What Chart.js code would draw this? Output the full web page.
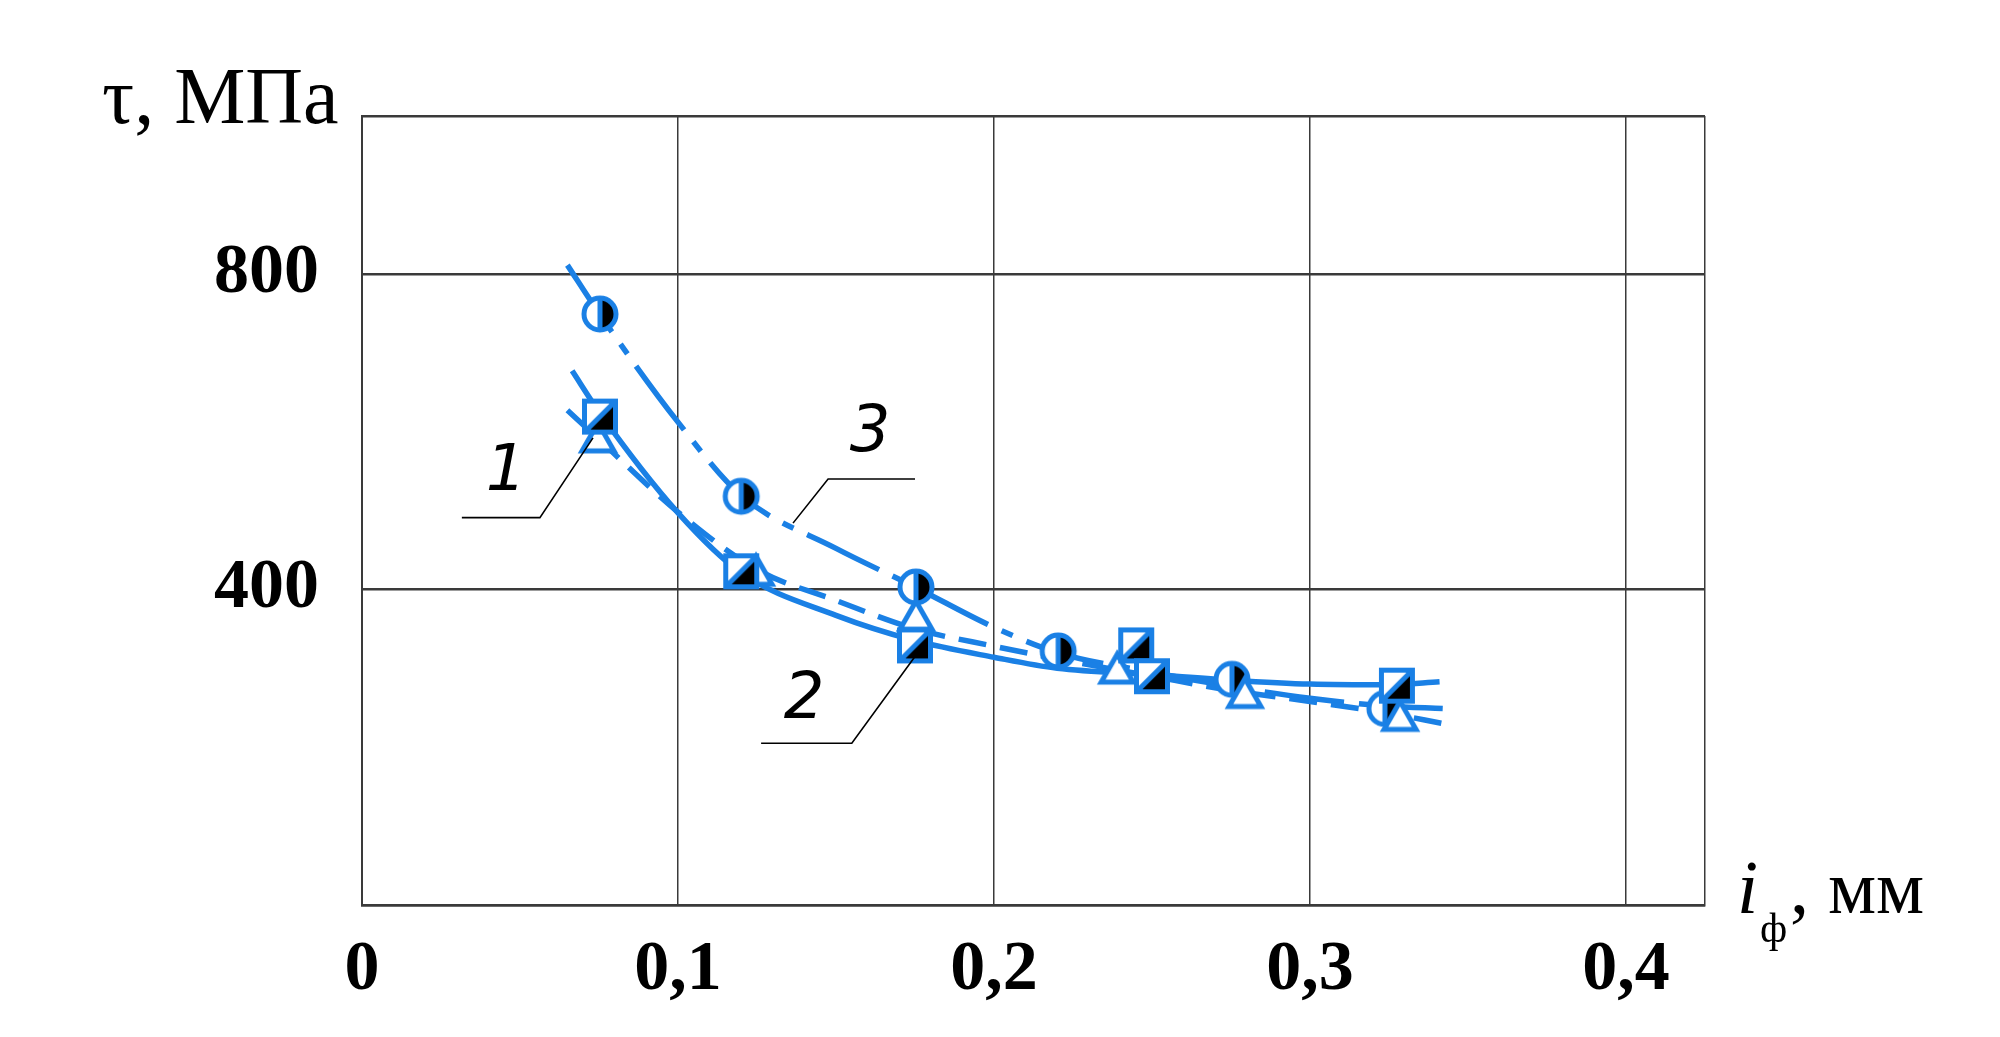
<!DOCTYPE html>
<html>
<head>
<meta charset="utf-8">
<script src="https://cdn.jsdelivr.net/npm/chart.js@4.4.1/dist/chart.umd.min.js"></script>
<style>
  html, body { margin: 0; padding: 0; background: #fff; }
  canvas { display: block; }
</style>
</head>
<body>
<canvas id="shearChart" width="2000" height="1037"></canvas>
<script>
// axis ticks
const xTicks = [0, 0.1, 0.2, 0.3, 0.4, 0.425];
const xTickLabels = ['0', '0,1', '0,2', '0,3', '0,4', ''];
const yTicks = [0, 400, 800, 1000];
const yTickLabels = ['', '400', '800', ''];

// measured points
const circleX = [0.0753, 0.120, 0.1753, 0.2203, 0.2753, 0.3237];
const circleY = [749, 518, 403, 322, 286, 249];
const squareX = [0.0753, 0.120, 0.175, 0.245, 0.250, 0.3275];
const squareY = [619, 423, 329, 329, 290, 278];
const triX = [0.0747, 0.1247, 0.1753, 0.239, 0.2794, 0.3285];
const triY = [592, 423, 366, 299, 268, 239];

// fitted curves
const curve1X = [0.065, 0.075, 0.1, 0.125, 0.15, 0.175, 0.2, 0.22, 0.25, 0.275, 0.3, 0.325, 0.342];
const curve1Y = [627, 590, 498, 425, 386, 350, 328, 312, 290, 272, 258, 243, 230];
const curve2X = [0.0665, 0.075, 0.1, 0.12, 0.15, 0.175, 0.2, 0.22, 0.25, 0.275, 0.3, 0.325, 0.341];
const curve2Y = [677, 625, 497, 421, 367, 335, 314, 300, 292, 285, 280, 279, 283];
const curve3X = [0.065, 0.075, 0.1, 0.12, 0.15, 0.175, 0.2, 0.22, 0.25, 0.275, 0.3, 0.325, 0.342];
const curve3Y = [811, 750, 612, 519, 452, 403, 352, 320, 295, 277, 262, 252, 249];

const blue = '#1a80e5';

function pts(xs, ys) {
  return xs.map((x, i) => ({ x: x, y: ys[i] }));
}

// marker pictures
function circleMark() {
  const c = document.createElement('canvas');
  c.width = c.height = 46;
  const g = c.getContext('2d');
  const r = 16;
  g.fillStyle = '#fff';
  g.beginPath(); g.arc(23, 23, r, 0, Math.PI * 2); g.fill();
  g.fillStyle = '#000';
  g.beginPath(); g.moveTo(23, 23 - r); g.arc(23, 23, r, -Math.PI / 2, Math.PI / 2); g.closePath(); g.fill();
  g.strokeStyle = blue; g.lineWidth = 5;
  g.beginPath(); g.arc(23, 23, r, 0, Math.PI * 2); g.stroke();
  g.beginPath(); g.moveTo(23, 23 - r); g.lineTo(23, 23 + r); g.stroke();
  return c;
}

function squareMark() {
  const c = document.createElement('canvas');
  c.width = c.height = 46;
  const g = c.getContext('2d');
  const h = 15.5;
  g.fillStyle = '#fff';
  g.fillRect(23 - h, 23 - h, 2 * h, 2 * h);
  g.fillStyle = '#000';
  g.beginPath(); g.moveTo(23 - h, 23 + h); g.lineTo(23 + h, 23 - h); g.lineTo(23 + h, 23 + h); g.closePath(); g.fill();
  g.strokeStyle = blue; g.lineWidth = 5; g.lineJoin = 'miter';
  g.strokeRect(23 - h, 23 - h, 2 * h, 2 * h);
  g.beginPath(); g.moveTo(23 - h, 23 + h); g.lineTo(23 + h, 23 - h); g.stroke();
  return c;
}

function triMark() {
  const c = document.createElement('canvas');
  c.width = c.height = 46;
  const g = c.getContext('2d');
  g.beginPath();
  g.moveTo(23, 8); g.lineTo(39, 36); g.lineTo(7, 36); g.closePath();
  g.fillStyle = '#fff'; g.fill();
  g.strokeStyle = blue; g.lineWidth = 5; g.lineJoin = 'miter';
  g.stroke();
  return c;
}

const curveLine = (data, dash) => ({
  data: data,
  borderColor: blue,
  borderWidth: 5.5,
  borderDash: dash,
  pointRadius: 0,
  cubicInterpolationMode: 'monotone',
  fill: false,
  order: 3
});

const markers = (data, img, order) => ({
  data: data,
  showLine: false,
  pointStyle: img,
  pointRadius: 18,
  order: order
});

// text, curve numbers and leader lines
const notes = {
  id: 'notes',
  afterDraw(chart) {
    const ctx = chart.ctx;
    const xs = chart.scales.x, ys = chart.scales.y;
    const px = (v) => xs.getPixelForValue(v);
    const py = (v) => ys.getPixelForValue(v);
    ctx.save();
    ctx.fillStyle = '#000';
    ctx.textAlign = 'left';
    ctx.textBaseline = 'alphabetic';
    ctx.font = '80px "Liberation Serif"';
    ctx.fillText('τ, МПа', 102, 123);
    ctx.font = 'italic 76px "Liberation Serif"';
    ctx.fillText('i', 1737, 913);
    ctx.font = '42px "Liberation Serif"';
    ctx.fillText('ф', 1760, 942);
    ctx.font = '76px "Liberation Serif"';
    ctx.fillText(', мм', 1790, 913);

    ctx.strokeStyle = '#000';
    ctx.lineWidth = 1.6;
    const leaders = [
      [[0.0316, 491], [0.0563, 491], [0.0731, 592]],
      [[0.1263, 205], [0.155, 205], [0.175, 315]],
      [[0.175, 540], [0.1475, 540], [0.1364, 484]]
    ];
    leaders.forEach(l => {
      ctx.beginPath();
      ctx.moveTo(px(l[0][0]), py(l[0][1]));
      ctx.lineTo(px(l[1][0]), py(l[1][1]));
      ctx.lineTo(px(l[2][0]), py(l[2][1]));
      ctx.stroke();
    });
    ctx.font = 'italic 64px "DejaVu Sans"';
    ctx.textAlign = 'center';
    ctx.textBaseline = 'middle';
    ctx.fillText('1', px(0.0456), py(547));
    ctx.fillText('2', px(0.1399), py(258));
    ctx.fillText('3', px(0.1608), py(597));
    ctx.restore();
  }
};

const ctx = document.getElementById('shearChart').getContext('2d');
new Chart(ctx, {
  type: 'line',
  data: {
    datasets: [
      curveLine(pts(curve1X, curve1Y), [28, 14]),
      curveLine(pts(curve2X, curve2Y), []),
      curveLine(pts(curve3X, curve3Y), [80, 15, 12, 15]),
      markers(pts(circleX, circleY), circleMark(), 2),
      markers(pts(triX, triY), triMark(), 1),
      markers(pts(squareX, squareY), squareMark(), 0)
    ]
  },
  options: {
    responsive: false,
    devicePixelRatio: 1,
    animation: false,
    layout: { padding: { left: 0, top: 116, right: 295, bottom: 0 } },
    plugins: {
      legend: { display: false },
      tooltip: { enabled: false }
    },
    scales: {
      x: {
        type: 'linear',
        min: 0,
        max: 0.425,
        afterBuildTicks: (axis) => { axis.ticks = xTicks.map(v => ({ value: v })); },
        afterFit: (axis) => { axis.height = 132; },
        grid: { color: '#3a3a3a', lineWidth: 1.5, drawTicks: false },
        border: { display: true, color: '#3a3a3a', width: 2.5 },
        ticks: {
          autoSkip: false,
          maxRotation: 0,
          padding: 24,
          color: '#000',
          font: { family: 'Liberation Serif', size: 70, weight: 'bold' },
          callback: (v, i) => xTickLabels[i]
        }
      },
      y: {
        type: 'linear',
        min: 0,
        max: 1000,
        afterBuildTicks: (axis) => { axis.ticks = yTicks.map(v => ({ value: v })); },
        afterFit: (axis) => { axis.width = 362; },
        grid: { color: '#3a3a3a', lineWidth: 2.5, drawTicks: false },
        border: { display: true, color: '#3a3a3a', width: 2 },
        ticks: {
          padding: 43,
          color: '#000',
          font: { family: 'Liberation Serif', size: 70, weight: 'bold' },
          callback: (v, i) => yTickLabels[i]
        }
      }
    }
  },
  plugins: [notes]
});
</script>
</body>
</html>
